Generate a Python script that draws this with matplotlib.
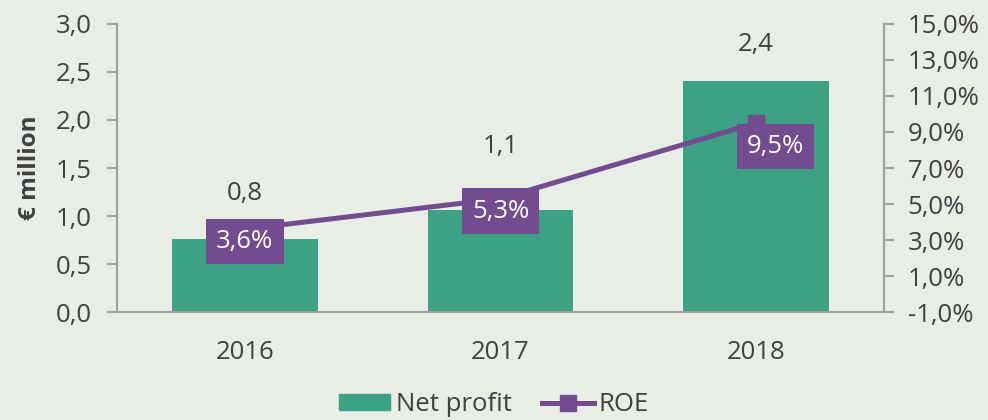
import matplotlib.pyplot as plt
from matplotlib.lines import Line2D
from matplotlib.patches import Patch

plt.rcParams['font.family'] = ['Open Sans', 'DejaVu Sans']

# data
years = ["2016", "2017", "2018"]
net_profit = [0.76, 1.06, 2.41]
profit_labels = ["0,8", "1,1", "2,4"]
roe = [3.6, 5.3, 9.5]
roe_labels = ["3,6%", "5,3%", "9,5%"]

bg = "#e8ede6"
green = "#3ca283"
purple = "#734b8f"
txt = "#404040"
grey = "#a0a0a0"
fs = 18.5

fig = plt.figure(figsize=(9.88, 4.2), dpi=100, facecolor=bg)
ax = fig.add_axes([0.1184, 0.2571, 0.7763, 0.6858])
ax.set_facecolor(bg)

x = list(range(len(years)))
ax.bar(x, net_profit, width=0.57, color=green, zorder=2)
ax.set_xlim(-0.5, 2.5)
ax.set_ylim(0, 3.0)
ax.set_yticks([0, 0.5, 1.0, 1.5, 2.0, 2.5, 3.0])
ax.set_yticklabels([f"{v:.1f}".replace(".", ",") for v in ax.get_yticks()])
ax.set_xticks(x)
ax.set_xticklabels(years)
ax.tick_params(axis="x", length=0, pad=20, labelsize=fs, labelcolor=txt)
ax.tick_params(axis="y", length=7, width=1.5, color=grey, labelsize=fs, labelcolor=txt, pad=11)
for s in ["top", "right"]:
    ax.spines[s].set_visible(False)
for s in ["left", "bottom"]:
    ax.spines[s].set_color(grey)
    ax.spines[s].set_linewidth(1.5)
ax.set_ylabel("€ million", fontsize=17.5, fontweight="bold", color=txt, labelpad=10)

# value labels above bars (offsets in points, as placed in the original)
offsets = [33, 46, 26]
for i, v in enumerate(net_profit):
    ax.annotate(profit_labels[i], (i, v), xytext=(0, offsets[i]), textcoords="offset points",
                ha="center", va="center", fontsize=fs, color=txt)

# ROE on secondary axis
ax2 = ax.twinx()
ax2.set_ylim(-1, 15)
ax2.set_yticks(range(-1, 16, 2))
ax2.set_yticklabels([f"{v:.1f}%".replace(".", ",") for v in range(-1, 16, 2)])
ax2.tick_params(axis="y", length=7, width=1.5, color=grey, labelsize=fs, labelcolor=txt, pad=10)
for s in ["top", "left", "bottom"]:
    ax2.spines[s].set_visible(False)
ax2.spines["right"].set_color(grey)
ax2.spines["right"].set_linewidth(1.5)
ax2.plot(x, roe, color=purple, lw=3.6, marker="s", markersize=11, zorder=3)

lab_off = [(0, -9), (0, -9), (14, -17)]
for i, v in enumerate(roe):
    ax2.annotate(roe_labels[i], (i, v), xytext=lab_off[i], textcoords="offset points",
                 ha="center", va="center", fontsize=fs, color="white", zorder=4,
                 bbox=dict(boxstyle="square,pad=0.4", fc=purple, ec="none"))

handles = [Patch(color=green, label="Net profit"),
           Line2D([0], [0], color=purple, lw=3.6, marker="s", markersize=11, label="ROE")]
fig.legend(handles=handles, loc="center", bbox_to_anchor=(0.5, 0.036), ncol=2, frameon=False,
           fontsize=fs, labelcolor=txt, handlelength=2.0, handleheight=0.6, handletextpad=0.2,
           columnspacing=1.2, borderpad=0)

fig.savefig("out.png", dpi=100, facecolor=bg)
